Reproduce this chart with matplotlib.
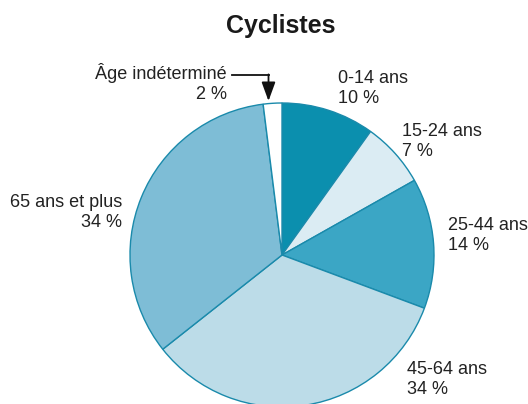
import matplotlib
matplotlib.use("Agg")
import matplotlib.pyplot as plt
from matplotlib import font_manager
from matplotlib.font_manager import FontProperties

names = {f.name for f in font_manager.fontManager.ttflist}
lab_family = ['Liberation Sans Narrow'] if 'Liberation Sans Narrow' in names else []
lab_family += ['Liberation Sans', 'DejaVu Sans']

categories = ["0-14 ans", "15-24 ans", "25-44 ans", "45-64 ans", "65 ans et plus", "Âge indéterminé"]
values = [10, 7, 14, 34, 34, 2]
pct_labels = ["10 %", "7 %", "14 %", "34 %", "34 %", "2 %"]
colors = ["#0b8fae", "#dbecf3", "#3ba6c5", "#bcdce8", "#7ebdd6", "#ffffff"]
title = "Cyclistes"

W, H = 528, 404
fig = plt.figure(figsize=(W / 100, H / 100), dpi=100)
ax = fig.add_axes([0, 0, 1, 1])

def Y(py):
    return H - py

ax.pie(values, colors=colors, startangle=90, counterclock=False,
       center=(282, Y(255)), radius=152, frame=True,
       wedgeprops=dict(edgecolor="#1a8aab", linewidth=1.0))
ax.set_xlim(0, W)
ax.set_ylim(0, H)
ax.set_aspect("equal")
ax.axis("off")

tc = "#222222"
fs = 13
# label positions (px, top-left origin) : (x, y_top, ha)
pos = [(338, 70, "left"), (402, 123, "left"), (448, 217, "left"),
       (407, 361, "left"), (122, 194, "right"), (227, 63, "right")]
for cat, pl, (x, y, ha) in zip(categories, pct_labels, pos):
    ax.text(x, Y(y), cat + "\n" + pl, ha=ha, va="top", fontsize=fs,
            family=lab_family, color=tc, linespacing=1.25, multialignment=ha)

# arrow for small slice
ax.plot([232, 268.5], [Y(75), Y(75)], color="#111111", lw=1.3)
ax.annotate("", xy=(268.5, Y(101)), xytext=(268.5, Y(74.4)),
            arrowprops=dict(arrowstyle="-|>,head_length=1.15,head_width=0.42",
                            color="#111111", lw=1.3, shrinkA=0, shrinkB=0))

ax.text(281, Y(33), title, ha="center", va="baseline", fontsize=18,
        fontweight="bold", family=['Liberation Sans', 'DejaVu Sans'], color="#1a1a1a")

fig.savefig("out.png", dpi=100)
